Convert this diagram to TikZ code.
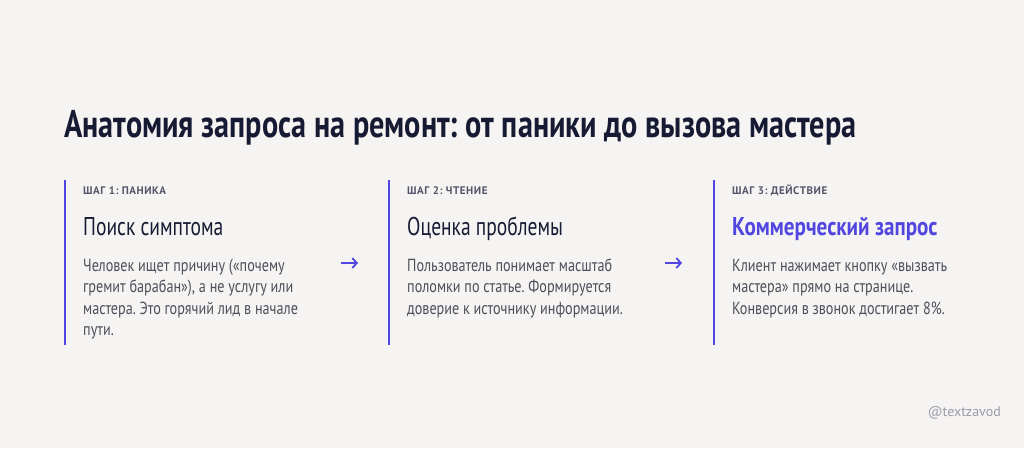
\documentclass[tikz,border=0pt]{standalone}
\usepackage{fontspec}
\usepackage{tikz}
\usetikzlibrary{arrows.meta}
\setmainfont{PT Sans}
\newfontfamily\titlefont{PT Sans}[FakeStretch=0.785]
\newfontfamily\headfont{PT Sans}[FakeStretch=0.76, BoldFeatures={FakeStretch=0.82}]
\newfontfamily\bodyfont{PT Sans}[FakeStretch=0.81]
\newfontfamily\labelfont{PT Sans}[LetterSpace=5]
\frenchspacing

\definecolor{bgpaper}{HTML}{F5F4F2}
\definecolor{navy}{HTML}{161B33}
\definecolor{accent}{HTML}{5147E0}
\definecolor{bodygray}{HTML}{4F4E5A}
\definecolor{stepgray}{HTML}{56556A}
\definecolor{markgray}{HTML}{9B99AB}

\begin{document}
\begin{tikzpicture}[x=1pt, y=-1pt,
    steplabel/.style={anchor=base west, inner sep=0pt, text=stepgray,
        font=\labelfont\bfseries\fontsize{11}{13}\selectfont},
    stephead/.style={anchor=base west, inner sep=0pt, text=navy,
        font=\headfont\fontsize{25.7}{30}\selectfont},
    stepbody/.style={anchor=north west, inner sep=0pt, text=bodygray, align=left,
        font=\bodyfont\fontsize{17.5}{21.5}\selectfont},
    stepbar/.style={accent, line width=2.5pt},
    steparrow/.style={accent, line width=1.8pt, -{Straight Barb[length=4.5pt, width=10pt]}}]

        % background and title
        \fill[bgpaper] (0,0) rectangle (1024,448);
        \node[anchor=base west, inner sep=0pt, text=navy,
            font=\titlefont\bfseries\fontsize{38.5}{44}\selectfont] (title) at (64,137)
            {Анатомия запроса на ремонт: от паники до вызова мастера};

        % step 1
        \coordinate (bar1top) at (65,180);
        \coordinate (bar1bot) at (65,345);
        \draw[stepbar] (bar1top) -- (bar1bot);
        \node[steplabel] (label1) at (83,194) {ШАГ 1: ПАНИКА};
        \node[stephead] (head1) at (83,235) {Поиск симптома};
        \node[stepbody] (body1) at (83,256) {\rule{0pt}{15pt}Человек ищет причину («почему\\гремит барабан»), а не услугу или\\мастера. Это горячий лид в начале\\пути.};

        % step 2
        \coordinate (bar2top) at (389,180);
        \coordinate (bar2bot) at (389,345);
        \draw[stepbar] (bar2top) -- (bar2bot);
        \node[steplabel] (label2) at (407,194) {ШАГ 2: ЧТЕНИЕ};
        \node[stephead] (head2) at (407,235) {Оценка проблемы};
        \node[stepbody] (body2) at (407,256) {\rule{0pt}{15pt}Пользователь понимает масштаб\\поломки по статье. Формируется\\доверие к источнику информации.};

        % step 3
        \coordinate (bar3top) at (714,180);
        \coordinate (bar3bot) at (714,345);
        \draw[stepbar] (bar3top) -- (bar3bot);
        \node[steplabel] (label3) at (732,194) {ШАГ 3: ДЕЙСТВИЕ};
        \node[stephead, text=accent, font=\headfont\bfseries\fontsize{25.7}{30}\selectfont] (head3) at (732,235) {Коммерческий запрос};
        \node[stepbody] (body3) at (732,256) {\rule{0pt}{15pt}Клиент нажимает кнопку «вызвать\\мастера» прямо на странице.\\Конверсия в звонок достигает 8\%.};

        % arrows between steps
        \coordinate (arr1a) at (341,263);
        \coordinate (arr1b) at (358,263);
        \coordinate (arr2a) at (665,263);
        \coordinate (arr2b) at (682,263);
        \draw[steparrow] (arr1a) -- (arr1b);
        \draw[steparrow] (arr2a) -- (arr2b);

        % signature
        \node[anchor=base east, inner sep=0pt, text=markgray,
            font=\fontsize{14}{17}\selectfont] (mark) at (1001,416) {@textzavod};
\end{tikzpicture}
\end{document}
